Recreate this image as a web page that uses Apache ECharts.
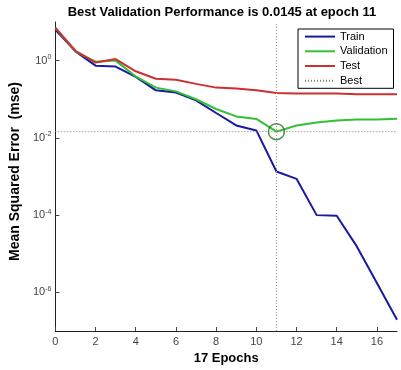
<!DOCTYPE html>
<html>
<head>
<meta charset="utf-8">
<script src="https://cdn.jsdelivr.net/npm/echarts@6/dist/echarts.min.js"></script>
<style>html,body{margin:0;padding:0;background:#fff}#c{width:401px;height:370px}</style>
</head>
<body>
<div id="c"></div>
<script>
var epochs = [0,1,2,3,4,5,6,7,8,9,10,11,12,13,14,15,16,17];
var train = [6.3,1.74,0.74,0.70,0.38,0.17,0.15,0.094,0.044,0.021,0.0156,0.00135,8.7e-4,1.0e-4,9.6e-5,1.55e-5,1.74e-6,1.95e-7];
var validation = [7.1,1.7,0.94,1.0,0.39,0.20,0.16,0.10,0.056,0.036,0.031,0.0145,0.021,0.025,0.028,0.030,0.030,0.0315];
var test = [7.0,1.8,0.89,1.1,0.53,0.34,0.32,0.25,0.20,0.19,0.17,0.145,0.14,0.14,0.14,0.135,0.135,0.135];
var bestEpoch = 11;
var bestValue = 0.0145;
var xTicks = [0,2,4,6,8,10,12,14,16];
var yTicks = [1, 1e-2, 1e-4, 1e-6];

function pairs(ys){ return epochs.map(function(e,i){ return [e, ys[i]]; }); }

var chart = echarts.init(document.getElementById('c'));
chart.setOption({
  animation: false,
  backgroundColor: '#fff',
  title: {
    text: 'Best Validation Performance is ' + bestValue + ' at epoch ' + bestEpoch,
    left: 217, textAlign: 'center', top: 1,
    textStyle: {fontFamily: 'Liberation Sans', fontSize: 13, fontWeight: 'bold', color: '#000'}
  },
  grid: {left: 41, right: 4, top: 22, bottom: 39},
  legend: {
    orient: 'vertical', left: 298, top: 29,
    padding: [2, 6, 2, 6], itemWidth: 30, itemHeight: 14, itemGap: 3.5,
    borderColor: '#000', borderWidth: 1, backgroundColor: '#fff',
    itemStyle: {opacity: 0},
    textStyle: {fontFamily: 'Liberation Sans', fontSize: 11, color: '#000'},
    data: ['Train', 'Validation', 'Test', 'Best']
  },
  xAxis: {
    type: 'value', min: 0, max: 17,
    name: epochs.length - 1 + ' Epochs', nameLocation: 'middle', nameGap: 19,
    nameTextStyle: {fontFamily: 'Liberation Sans', fontSize: 13, fontWeight: 'bold', color: '#000'},
    axisLine: {lineStyle: {color: '#222'}},
    axisTick: {inside: true, length: 4, customValues: xTicks, lineStyle: {color: '#444'}},
    axisLabel: {customValues: xTicks, margin: 5, fontFamily: 'Liberation Sans', fontSize: 11, color: '#444'},
    splitLine: {show: false}
  },
  yAxis: {
    type: 'log', logBase: 10, min: 1e-7, max: 10,
    name: 'Mean Squared Error  (mse)', nameLocation: 'middle', nameGap: 27, nameRotate: 90,
    nameTextStyle: {fontFamily: 'Liberation Sans', fontSize: 14, fontWeight: 'bold', color: '#000', padding: [0, 0, 0, 10]},
    axisLine: {show: true, lineStyle: {color: '#222'}},
    axisTick: {inside: true, length: 4, customValues: yTicks, lineStyle: {color: '#444'}},
    axisLabel: {
      customValues: yTicks, margin: 4,
      formatter: function(v){ var e = Math.round(Math.log10(v)); return '{b|10}{s|' + e + '}'; },
      rich: {
        b: {fontFamily: 'Liberation Sans', fontSize: 11, color: '#444'},
        s: {fontFamily: 'Liberation Sans', fontSize: 7, color: '#444', padding: [0, 0, 7, 0]}
      }
    },
    splitLine: {show: false}
  },
  series: [
    {name: 'Train', type: 'line', data: pairs(train), symbol: 'none', lineStyle: {color: '#1a1aa0', width: 2}, itemStyle: {color: '#1a1aa0'}},
    {name: 'Validation', type: 'line', data: pairs(validation), symbol: 'none', lineStyle: {color: '#33c033', width: 2}, itemStyle: {color: '#33c033'}},
    {name: 'Test', type: 'line', data: pairs(test), symbol: 'none', lineStyle: {color: '#cc3030', width: 2}, itemStyle: {color: '#cc3030'}},
    {name: 'Best', type: 'line', data: [[0, bestValue], [17, bestValue]], symbol: 'none',
      lineStyle: {color: '#777', width: 1, type: [1, 2]}, itemStyle: {color: '#777'},
      markLine: {silent: true, symbol: 'none', label: {show: false},
        lineStyle: {color: '#999', width: 1, type: [1, 2]},
        data: [{xAxis: bestEpoch}]}
    },
    {name: 'BestCircle', type: 'scatter', data: [[bestEpoch, bestValue]], symbol: 'circle', symbolSize: 16,
      itemStyle: {color: 'rgba(0,0,0,0)', borderColor: '#1f6f1f', borderWidth: 1.5}, z: 5}
  ]
});
</script>
</body>
</html>
